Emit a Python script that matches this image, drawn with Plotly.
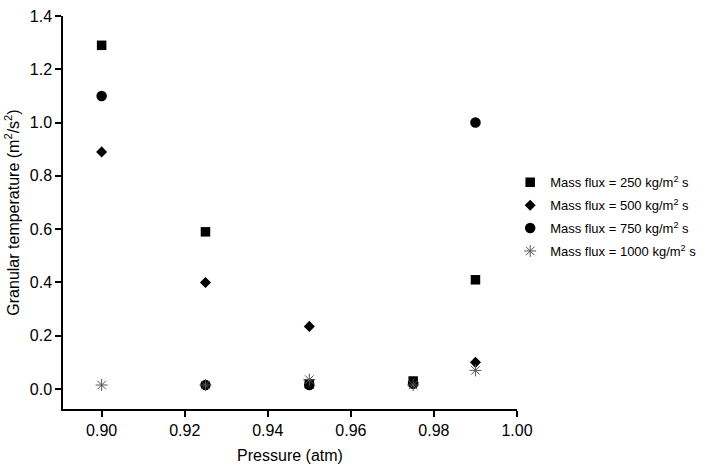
import plotly.graph_objects as go

pressure = [0.900, 0.925, 0.950, 0.975, 0.990]
flux_250 = [1.29, 0.59, 0.02, 0.03, 0.41]
flux_500 = [0.89, 0.40, 0.235, 0.025, 0.10]
flux_750 = [1.10, 0.015, 0.015, 0.02, 1.00]
flux_1000 = [0.015, 0.015, 0.035, 0.015, 0.07]

series_names = [
    "Mass flux = 250 kg/m<sup>2</sup> s",
    "Mass flux = 500 kg/m<sup>2</sup> s",
    "Mass flux = 750 kg/m<sup>2</sup> s",
    "Mass flux = 1000 kg/m<sup>2</sup> s",
]

fig = go.Figure()
fig.add_trace(go.Scatter(x=pressure, y=flux_250, mode="markers", name=series_names[0], legendgroup="a",
                         marker=dict(symbol="square", size=9.5, color="black")))
fig.add_trace(go.Scatter(x=pressure, y=flux_500, mode="markers", name=series_names[1], legendgroup="b",
                         marker=dict(symbol="diamond", size=8.5, color="black")))
fig.add_trace(go.Scatter(x=pressure, y=flux_750, mode="markers", name=series_names[2], legendgroup="c",
                         marker=dict(symbol="circle", size=10.5, color="black")))
fig.add_trace(go.Scatter(x=pressure, y=flux_1000, mode="markers", name=series_names[3], legendgroup="d",
                         marker=dict(symbol="asterisk-open", size=10, color="#555555",
                                     line=dict(color="#555555", width=1))))

font = "Liberation Sans, Arial, sans-serif"
fig.update_layout(
    width=707, height=470,
    margin=dict(l=63, r=190, t=16, b=61, autoexpand=False),
    plot_bgcolor="white", paper_bgcolor="white",
    font=dict(family=font, size=16, color="black"),
    showlegend=True,
    legend=dict(x=0.985, y=0.615, xanchor="left", yanchor="top",
                font=dict(size=13, family=font, color="black"),
                bgcolor="rgba(0,0,0,0)", tracegroupgap=3),
    xaxis=dict(range=[0.8907, 1.0], tickvals=[0.90, 0.92, 0.94, 0.96, 0.98, 1.00],
               ticktext=["0.90", "0.92", "0.94", "0.96", "0.98", "1.00"],
               showgrid=False, zeroline=False, showline=True, linecolor="black", linewidth=1.5,
               ticks="outside", ticklen=6, tickwidth=1.5, tickcolor="black",
               title=dict(text="Pressure (atm)", font=dict(size=16), standoff=12),
               tickfont=dict(size=16)),
    yaxis=dict(range=[-0.075, 1.4], tickvals=[0.0, 0.2, 0.4, 0.6, 0.8, 1.0, 1.2, 1.4],
               ticktext=["0.0", "0.2", "0.4", "0.6", "0.8", "1.0", "1.2", "1.4"],
               showgrid=False, zeroline=False, showline=True, linecolor="black", linewidth=1.5,
               ticks="outside", ticklen=6, tickwidth=1.5, tickcolor="black",
               title=dict(text="Granular temperature (m<sup>2</sup>/s<sup>2</sup>)", font=dict(size=16), standoff=6),
               tickfont=dict(size=16)),
)

fig.write_html("out.html")
